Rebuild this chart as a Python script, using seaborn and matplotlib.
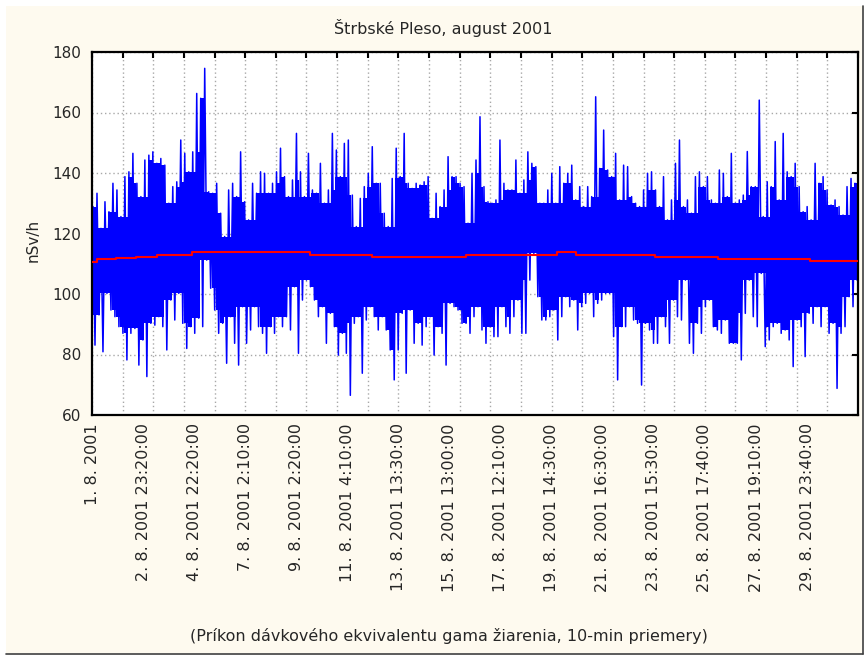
import numpy as np
import pandas as pd
import matplotlib
matplotlib.use("Agg")
import matplotlib.pyplot as plt
from matplotlib.patches import Rectangle
from matplotlib.lines import Line2D
from matplotlib.ticker import FixedLocator, NullFormatter, FixedFormatter
import seaborn as sns

# ---------------- data ----------------
title = "Štrbské Pleso, august 2001"
y_label = "nSv/h"
caption = "(Príkon dávkového ekvivalentu gama žiarenia, 10-min priemery)"

n_cases = 4500          # number of 10-min cases on the x axis
grid_step = 180         # cases between vertical grid lines
label_cases = [1, 301, 601, 901, 1201, 1501, 1801, 2101, 2401, 2701,
               3001, 3301, 3601, 3901, 4201]
tick_labels = ["1. 8. 2001", "2. 8. 2001 23:20:00", "4. 8. 2001 22:20:00",
               "7. 8. 2001 2:10:00", "9. 8. 2001 2:20:00", "11. 8. 2001 4:10:00",
               "13. 8. 2001 13:30:00", "15. 8. 2001 13:00:00", "17. 8. 2001 12:10:00",
               "19. 8. 2001 14:30:00", "21. 8. 2001 16:30:00", "23. 8. 2001 15:30:00",
               "25. 8. 2001 17:40:00", "27. 8. 2001 19:10:00", "29. 8. 2001 23:40:00"]
y_ticks = [60, 80, 100, 120, 140, 160, 180]

# max / min of the 10-min values, read column by column (approx. 23 cases each)
upper_1 = [128.9, 133.3, 121.7, 130.5, 127.2, 136.6, 134.4, 125.6, 138.8, 140.4, 146.5,
           136.6, 132.2, 144.3, 145.9, 147.0, 143.2, 144.8, 142.6, 130.0, 135.5, 137.1]
lower_1 = [83.1, 93.1, 80.9, 100.2, 94.7, 92.5, 89.2, 87.0, 78.2, 87.0, 88.6,
           76.5, 84.8, 72.7, 90.3, 89.7, 92.5, 89.2, 81.5, 98.0, 91.4, 100.2]
upper_2 = [150.9, 146.5, 140.4, 147.0, 166.3, 164.7, 174.6, 133.8, 133.3, 136.6, 126.7, 119.0,
           134.4, 136.6, 132.2, 147.0, 130.5, 124.5, 136.6, 133.3, 140.4, 139.9, 133.3]
lower_2 = [90.3, 82.0, 89.2, 87.0, 92.0, 89.2, 111.2, 101.9, 94.7, 87.0, 90.3, 77.1,
           92.5, 83.7, 76.5, 95.8, 83.7, 88.1, 95.8, 89.2, 87.0, 80.4, 89.2]
upper_3 = [136.6, 140.4, 148.2, 138.8, 132.2, 137.7, 153.1, 140.4, 132.2, 146.5, 134.4, 133.3,
           143.2, 130.0, 134.4, 153.1, 147.6, 138.8, 149.8, 150.9, 132.7, 122.3, 131.6, 135.5, 139.9]
lower_3 = [87.0, 92.5, 89.2, 92.5, 88.1, 102.4, 80.4, 98.0, 104.6, 102.4, 98.0, 92.5,
           95.8, 83.7, 93.6, 89.2, 79.8, 87.0, 80.4, 66.5, 90.3, 92.5, 73.8, 91.4, 95.8]
upper_4 = [148.7, 136.6, 136.6, 126.7, 122.3, 138.2, 148.2, 138.8, 153.1, 136.6, 134.9, 136.6,
           136.0, 137.1, 138.8, 125.0, 133.3, 128.9, 134.4, 145.4, 138.8, 138.8, 136.6, 135.5]
lower_4 = [92.5, 88.1, 92.5, 88.1, 81.5, 71.6, 81.5, 93.6, 73.8, 94.7, 83.7, 90.3,
           83.1, 89.2, 92.5, 79.8, 89.2, 87.0, 76.5, 96.9, 95.8, 94.7, 90.3, 90.3]
upper_5 = [123.4, 139.9, 144.3, 158.6, 135.5, 130.5, 130.0, 131.1, 150.9, 136.6, 134.4, 134.4,
           144.3, 133.3, 137.7, 147.0, 143.2, 142.1, 130.0, 130.0, 134.4, 139.9, 130.0, 142.1]
lower_5 = [87.0, 92.5, 95.8, 88.1, 83.7, 89.2, 85.9, 85.9, 95.8, 89.2, 87.0, 92.5,
           98.0, 87.0, 87.0, 104.6, 113.4, 99.1, 91.4, 91.4, 92.5, 94.7, 84.8, 92.5]
upper_6 = [136.6, 139.9, 142.6, 131.1, 135.5, 128.9, 135.5, 132.2, 165.2, 141.5, 154.2, 141.0,
           138.8, 146.5, 131.1, 142.6, 142.1, 132.2, 130.0, 128.9, 134.4, 139.9, 140.4]
lower_6 = [99.1, 95.8, 98.0, 88.1, 95.8, 96.9, 100.2, 92.5, 96.9, 98.0, 100.2, 100.2,
           85.9, 71.6, 89.2, 89.2, 95.8, 91.4, 90.3, 69.9, 90.3, 88.1, 83.7]
upper_7 = [134.4, 128.9, 138.8, 124.5, 131.1, 143.2, 150.9, 128.9, 131.1, 126.7, 138.8, 140.4,
           135.5, 138.8, 131.1, 130.0, 141.0, 139.9, 132.2, 146.5, 130.0, 131.1, 132.7, 147.1]
lower_7 = [83.7, 92.5, 89.2, 83.7, 98.0, 92.5, 91.4, 104.6, 83.7, 80.4, 90.3, 87.0,
           95.8, 98.0, 89.2, 88.1, 87.0, 91.4, 83.7, 83.7, 83.7, 78.2, 93.6, 104.6]
upper_8 = [135.5, 135.5, 164.1, 125.6, 137.1, 135.5, 150.4, 131.1, 153.1, 140.4, 138.8, 143.2,
           135.5, 127.2, 128.9, 124.5, 143.2, 136.6, 138.8, 134.4, 129.4, 131.1, 128.9, 126.1,
           135.5, 138.2, 136.6]
lower_8 = [92.5, 89.2, 106.8, 82.6, 84.8, 89.2, 90.3, 87.0, 88.1, 84.8, 76.0, 91.4,
           89.2, 79.3, 93.6, 90.3, 95.8, 89.2, 95.8, 87.0, 90.3, 68.8, 87.0, 89.2,
           99.1, 95.8, 104.6]

# smoothed (red) curve: value held from each break to the next
red_breaks = [0, 29, 141, 258, 382, 587, 1281, 1645, 2197, 2732, 2843, 3307, 3677, 4218, 4500]
red_values = [110.7, 111.6, 111.9, 112.3, 113.0, 113.8, 112.9, 112.3, 112.9, 114.0,
              112.9, 112.3, 111.7, 111.0]

# ---------------- build ----------------
upper = upper_1 + upper_2 + upper_3 + upper_4 + upper_5 + upper_6 + upper_7 + upper_8
lower = lower_1 + lower_2 + lower_3 + lower_4 + lower_5 + lower_6 + lower_7 + lower_8
n_col = len(upper)
col_w = n_cases / n_col

# zig-zag through the column extremes: max then min of every column
zig_x, zig_y = [], []
for c in range(n_col):
    zig_x += [(c + 0.25) * col_w, (c + 0.75) * col_w]
    zig_y += [upper[c], lower[c]]
zig = pd.DataFrame({"case": zig_x, "val": zig_y})

# solid core: every column is covered as far as it and both neighbours reach
core_hi = [min(upper[max(c - 1, 0):c + 2]) for c in range(n_col)]
core_lo = [max(lower[max(c - 1, 0):c + 2]) for c in range(n_col)]
core = pd.DataFrame({"case": np.linspace(0, n_cases, n_col + 1),
                     "hi": core_hi + [core_hi[-1]],
                     "lo": core_lo + [core_lo[-1]]})
red = pd.DataFrame({"case": red_breaks, "val": red_values + [red_values[-1]]})

W, H = 865, 656
sns.set_style("white")
plt.rcParams["font.family"] = ["DejaVu Sans"]

fig = plt.figure(figsize=(W / 100, H / 100), dpi=100, facecolor="white")

# panel background and frame
fig.patches.append(Rectangle((6 / W, 1 - 653 / H), (862 - 6) / W, (653 - 6) / H,
                             transform=fig.transFigure, facecolor="#FEFAEF",
                             edgecolor="none", zorder=-10))
fig.lines.append(Line2D([862.5 / W, 862.5 / W], [1 - 653.5 / H, 1 - 6 / H],
                        transform=fig.transFigure, color="#404040", lw=1.2))
fig.lines.append(Line2D([6 / W, 862.5 / W], [1 - 653.5 / H, 1 - 653.5 / H],
                        transform=fig.transFigure, color="#404040", lw=1.2))

ax = fig.add_axes([92 / W, 1 - 415 / H, (858 - 92) / W, (415 - 52) / H])
ax.set_facecolor("white")

ax.fill_between(core["case"], core["lo"], core["hi"], step="post",
                color="#0000FF", linewidth=0, zorder=2)
sns.lineplot(data=zig, x="case", y="val", color="#0000FF", lw=1.1, ax=ax,
             estimator=None, sort=False, zorder=2)
sns.lineplot(data=red, x="case", y="val", drawstyle="steps-post", color="#FF0000",
             lw=1.5, ax=ax, estimator=None, sort=False, zorder=3)

ax.set_xlim(0, n_cases)
ax.set_ylim(y_ticks[0], y_ticks[-1])
ax.set_xlabel("")
ax.set_ylabel("")

ax.xaxis.set_major_locator(FixedLocator(np.arange(0, n_cases + 1, grid_step)))
ax.xaxis.set_major_formatter(NullFormatter())
ax.xaxis.set_minor_locator(FixedLocator(label_cases))
ax.xaxis.set_minor_formatter(FixedFormatter(tick_labels))
ax.set_yticks(y_ticks)
ax.set_yticklabels([str(v) for v in y_ticks])

ax.tick_params(axis="both", which="major", direction="in", length=4, width=1.5,
               top=True, right=True, color="black")
ax.tick_params(axis="y", which="major", labelsize=11, pad=8)
ax.tick_params(axis="x", which="minor", length=0, labelsize=11.5, pad=6,
               labelrotation=90)
for lab in ax.xaxis.get_minorticklabels():
    lab.set_verticalalignment("top")
    lab.set_horizontalalignment("center")

ax.grid(True, which="major", color="#A8A8A8", linestyle=(0, (1, 2)), linewidth=1)
ax.set_axisbelow(True)
for s in ax.spines.values():
    s.set_visible(True)
    s.set_color("black")
    s.set_linewidth(1.6)

fig.text(443 / W, 1 - 28 / H, title, ha="center", va="center", fontsize=11.5)
fig.text(33 / W, 1 - 240 / H, y_label, ha="center", va="center", rotation=90, fontsize=11)
fig.text(449 / W, 1 - 636 / H, caption, ha="center", va="center", fontsize=11.5)

fig.savefig("out.png", dpi=100, facecolor=fig.get_facecolor())
